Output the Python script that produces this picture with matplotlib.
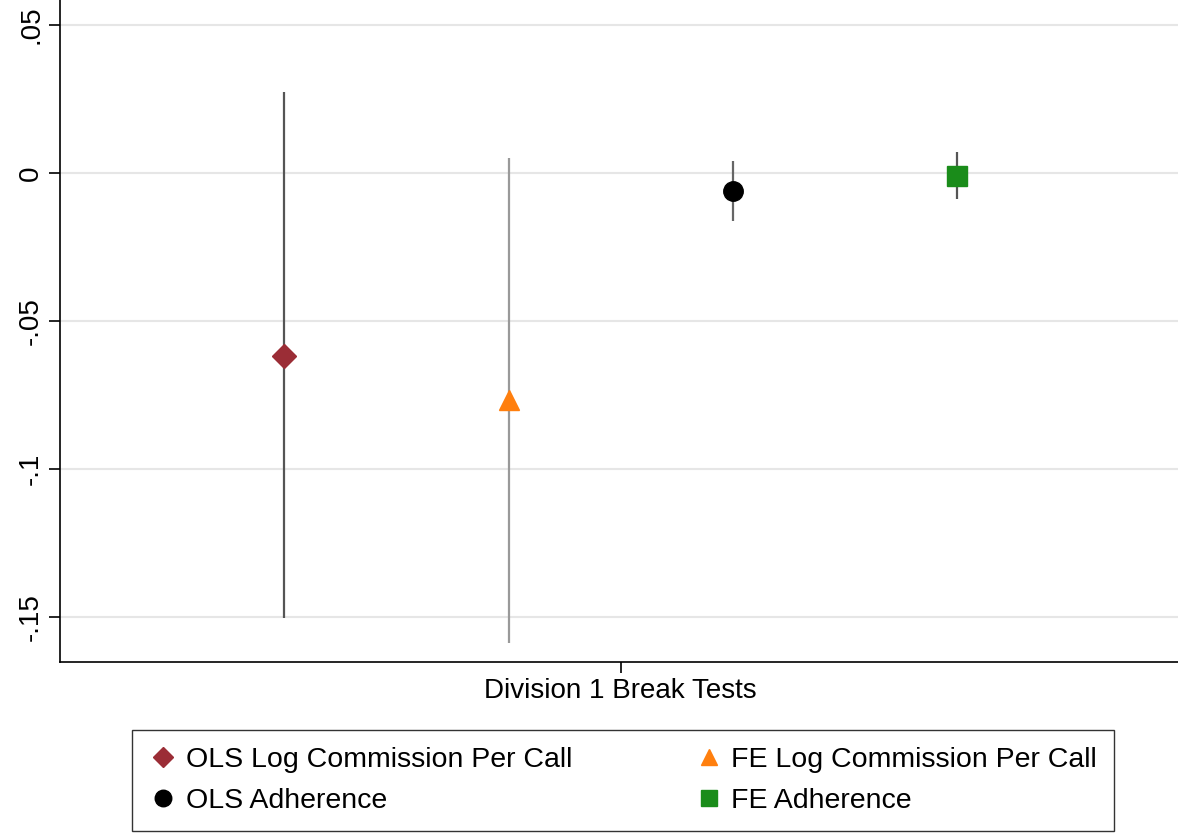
import matplotlib
matplotlib.use("Agg")
import matplotlib.pyplot as plt

plt.rcParams["font.family"] = ["Liberation Sans", "DejaVu Sans"]

labels = ["OLS Log Commission Per Call", "FE Log Commission Per Call",
          "OLS Adherence", "FE Adherence"]
estimates = [-0.0618, -0.0767, -0.0061, -0.0010]
ci_low = [-0.1503, -0.1588, -0.0162, -0.0088]
ci_high = [0.0274, 0.0051, 0.0041, 0.0071]
positions = [-1.5, -0.5, 0.5, 1.5]
markers = ["D", "^", "o", "s"]
colors = ["#9b2d36", "#ff7f0e", "black", "#1a8c1a"]
ci_colors = ["#555555", "#999999", "#666666", "#555555"]

fig = plt.figure(figsize=(11.78, 8.35), dpi=100)
ax = fig.add_axes([0.051, 0.207, 0.949, 0.793])

handles = []
for x, est, lo, hi, m, c, cc, lab in zip(positions, estimates, ci_low, ci_high,
                                         markers, colors, ci_colors, labels):
    ax.vlines(x, lo, hi, color=cc, lw=1.6, zorder=2)
    h, = ax.plot(x, est, marker=m, color=c, ms=14 if m != "D" else 12,
                 linestyle="none", label=lab, zorder=3)
    handles.append(h)

ax.set_xlim(-2.5, 2.485)
ax.set_ylim(-0.1652, 0.0584)
ax.set_yticks([-0.15, -0.1, -0.05, 0, 0.05])
ax.set_yticklabels(["-.15", "-.1", "-.05", "0", ".05"], rotation=90, va="center",
                   fontsize=20)
ax.set_xticks([0])
ax.set_xticklabels(["Division 1 Break Tests"], fontsize=20)
ax.tick_params(axis="both", length=8, width=1.2)
ax.grid(axis="y", color="#e6e6e6", lw=1.5, zorder=0)
for s in ["top", "right"]:
    ax.spines[s].set_visible(False)
for s in ["left", "bottom"]:
    ax.spines[s].set_linewidth(1.2)

order = [handles[0], handles[2], handles[1], handles[3]]
fig.legend(order, [h.get_label() for h in order], ncol=2, loc="lower left",
           bbox_to_anchor=(0.1, -0.012, 0.858, 0.118), mode="expand",
           fontsize=20.5, frameon=True, fancybox=False, edgecolor="black",
           handletextpad=0.3, borderpad=0.6, labelspacing=0.5, handlelength=1.0,
           markerscale=0.85)

fig.savefig("out.png", dpi=100)
